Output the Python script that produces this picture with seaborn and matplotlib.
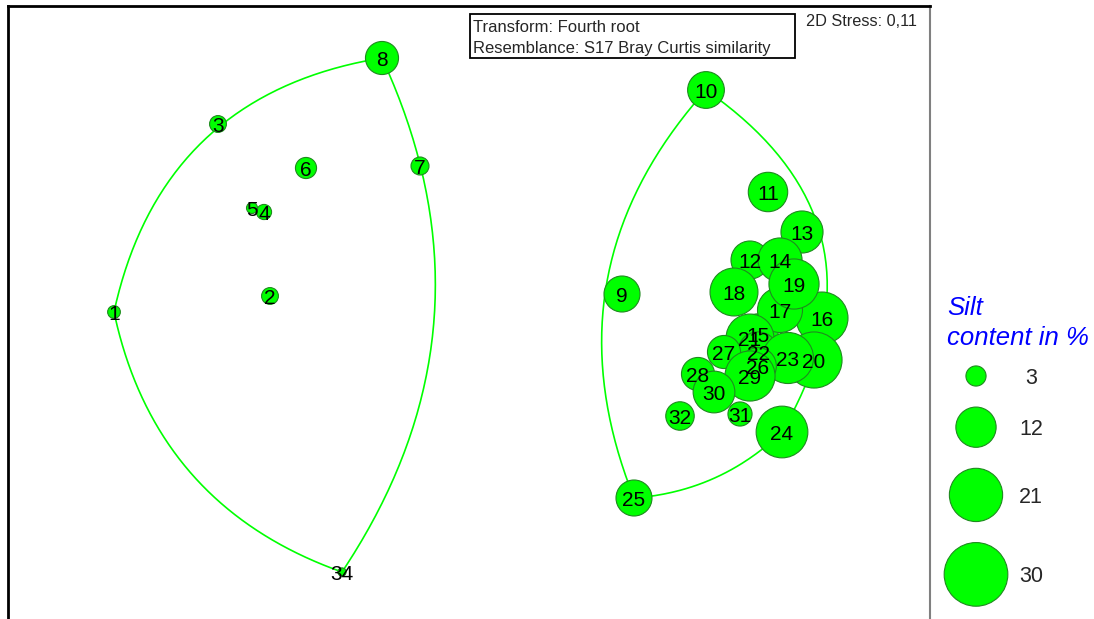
import numpy as np
import pandas as pd
import seaborn as sns
from matplotlib import pyplot as plt
from matplotlib.patches import Rectangle


# nMDS ordination, samples and silt content (%)
sample = [str(i) for i in range(1, 33)] + ["34"]
mds_x = [-1.78, -1.00, -1.26, -1.03, -1.09, -0.82, -0.25, -0.44,
         0.76, 1.18, 1.49, 1.40, 1.66, 1.55, 1.44, 1.76, 1.55, 1.32,
         1.62, 1.72, 1.40, 1.44, 1.59, 1.56, 0.82, 1.44, 1.27, 1.14,
         1.40, 1.22, 1.35, 1.05, -0.64]
mds_y = [0.04, 0.12, 0.98, 0.54, 0.56, 0.76, 0.77, 1.31,
         0.13, 1.15, 0.64, 0.30, 0.44, 0.30, -0.07, 0.01, 0.05, 0.14,
         0.18, -0.20, -0.09, -0.16, -0.19, -0.56, -0.89, -0.23, -0.16, -0.27,
         -0.28, -0.36, -0.47, -0.48, -1.26]
silt = [1.2, 2.1, 2.1, 1.7, 0.9, 3.3, 2.4, 8.1,
        9.6, 10.0, 11.5, 10.7, 13.1, 14.4, 12.0, 20.0, 15.0, 17.0,
        18.6, 23.3, 17.0, 12.0, 19.3, 19.8, 9.6, 10.0, 8.1, 8.1,
        18.6, 12.9, 4.3, 6.0, 0.5]

# group outlines: corner samples and how far each side bows out (fraction of side length)
outline_left = ["8", "34", "1"]
bulge_left = [0.14, 0.14, 0.17]
outline_right = ["10", "24", "25"]
bulge_right = [0.23, 0.09, 0.155]

legend_silt = [3, 12, 21, 30]

GREEN = "#00ff00"
EDGE = "#1f8a1f"
SIZES = (0, 2100)
SIZE_NORM = (0, 30)


def curved_outline(xs, ys, bulges, n=80):
    """Closed outline made of one bowed quadratic curve per side"""
    pts = np.column_stack([xs, ys])
    m = len(pts)
    area = 0.5 * np.sum(pts[:, 0] * np.roll(pts[:, 1], -1) - np.roll(pts[:, 0], -1) * pts[:, 1])
    sign = 1 if area > 0 else -1
    t = np.linspace(0, 1, n)[:, None]
    segs = []
    for i in range(m):
        a, b = pts[i], pts[(i + 1) % m]
        d = b - a
        normal = np.array([d[1], -d[0]]) * sign
        c = (a + b) / 2 + 2 * bulges[i] * normal
        segs.append((1 - t) ** 2 * a + 2 * t * (1 - t) * c + t ** 2 * b)
    out = np.vstack(segs)
    return out[:, 0], out[:, 1]


df = pd.DataFrame({"sample": sample, "x": mds_x, "y": mds_y, "silt": silt})

sns.set_style("white")
plt.rcParams["font.family"] = ["Liberation Sans", "DejaVu Sans"]

fig = plt.figure(figsize=(10.94, 6.19), dpi=100)
W, H = 1094, 619

ax = fig.add_axes([8 / W, 0, 922 / W, 613 / H])
ax.set_xlim(-2.31, 2.30)
ax.set_ylim(-1.495, 1.57)

by_sample = df.set_index("sample")
for group, bulge in [(outline_left, bulge_left), (outline_right, bulge_right)]:
    sub = by_sample.loc[group]
    cx, cy = curved_outline(sub["x"].values, sub["y"].values, bulge)
    ax.plot(cx, cy, color=GREEN, lw=1.2, zorder=1)

sns.scatterplot(data=df, x="x", y="y", size="silt", sizes=SIZES, size_norm=SIZE_NORM,
                color=GREEN, edgecolor=EDGE, linewidth=0.8, alpha=1,
                legend=False, ax=ax, zorder=2)

for _, row in df.iterrows():
    ax.text(row["x"], row["y"], row["sample"], fontsize=15, ha="center",
            va="center_baseline", color="black", zorder=3)

ax.set_xticks([])
ax.set_yticks([])
ax.set_xlabel("")
ax.set_ylabel("")
ax.spines["bottom"].set_visible(False)
ax.spines["left"].set_linewidth(2)
ax.spines["left"].set_color("black")
ax.spines["top"].set_linewidth(2)
ax.spines["top"].set_color("black")
ax.spines["right"].set_linewidth(1.5)
ax.spines["right"].set_color("#808080")

# header
fig.add_artist(Rectangle((470 / W, 1 - 58 / H), 325 / W, 44 / H, transform=fig.transFigure,
                         fill=False, edgecolor="black", lw=1.3))
fig.text(473 / W, 1 - 27 / H, "Transform: Fourth root", fontsize=12, va="center")
fig.text(473 / W, 1 - 49 / H, "Resemblance: S17 Bray Curtis similarity", fontsize=12, va="center")
fig.text(806 / W, 1 - 22 / H, "2D Stress: 0,11", fontsize=11.7, va="center")

# size legend
lax = fig.add_axes([930 / W, 0, 164 / W, 1])
lax.set_xlim(0, 164)
lax.set_ylim(619, 0)
lax.axis("off")
lax.text(17, 308, "Silt", fontsize=18.5, style="italic", color="blue", va="center")
lax.text(17, 338, "content in %", fontsize=18.5, style="italic", color="blue", va="center")

radii = [np.sqrt(SIZES[1] * v / SIZE_NORM[1]) / 1.44 for v in legend_silt]
leg_y = [376]
for i in range(1, len(radii)):
    leg_y.append(leg_y[-1] + radii[i - 1] + radii[i] + 21)
sns.scatterplot(x=[46] * len(legend_silt), y=leg_y, size=legend_silt, sizes=SIZES,
                size_norm=SIZE_NORM, color=GREEN, edgecolor=EDGE, linewidth=0.8,
                alpha=1, legend=False, ax=lax)
for v, yy in zip(legend_silt, leg_y):
    lax.text(101, yy, str(v), fontsize=15.5, ha="center", va="center_baseline")

fig.savefig("out.png", dpi=100)
